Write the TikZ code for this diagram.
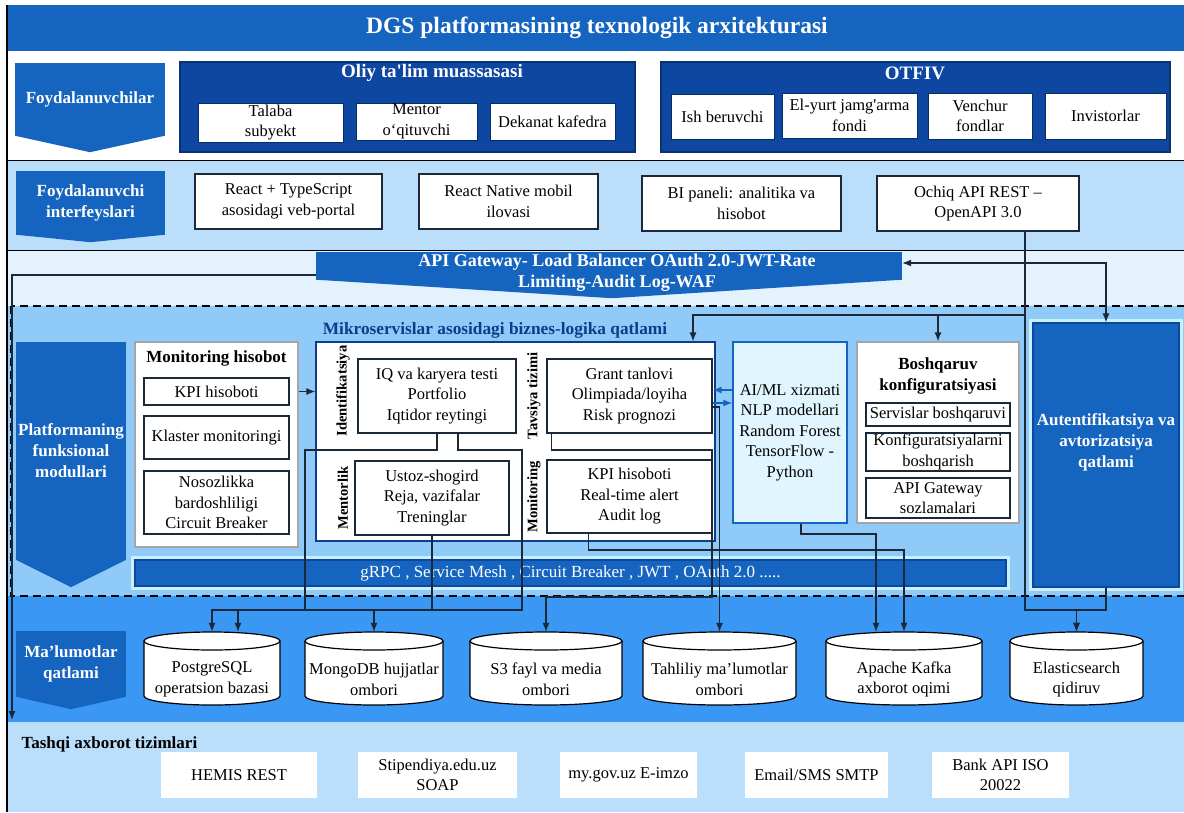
\documentclass[tikz,border=0pt]{standalone}
\usepackage{fontspec}
\setmainfont{Liberation Serif}
\usetikzlibrary{arrows.meta}

\definecolor{bandblue}{HTML}{1565C0}
\definecolor{groupblue}{HTML}{0D47A1}
\definecolor{ifacebg}{HTML}{BBDEFB}
\definecolor{gwbg}{HTML}{E3F2FD}
\definecolor{modbg}{HTML}{90CAF9}
\definecolor{databg}{HTML}{3A98F4}
\definecolor{aibg}{HTML}{E1F5FE}
\definecolor{linecol}{HTML}{1B2838}
\definecolor{labblue}{HTML}{0D3C8A}
\definecolor{halo}{HTML}{C8F0FF}

\tikzset{
  box/.style={draw=linecol, fill=white, line width=1.2pt, align=center, inner sep=1pt},
  ubox/.style={draw=groupblue!60!black, fill=white, line width=1pt, align=center, inner sep=1pt},
  xbox/.style={fill=white, align=center, inner sep=1pt},
  group/.style={draw=groupblue!70!black, fill=groupblue, line width=1.2pt},
  penta/.style={fill=bandblue, text=white, align=center, inner sep=0pt, font=\fontsize{17}{21}\selectfont\bfseries},
  hd/.style={font=\fontsize{17}{21}\selectfont\bfseries, align=center},
  grp/.style={text=white, font=\fontsize{19}{23}\selectfont\bfseries},
  vlab/.style={rotate=90, font=\fontsize{14.6}{18}\selectfont\bfseries},
  glow/.style={preaction={draw=halo, line width=8pt}},
  dbline/.style={draw=black, fill=white, line width=1.2pt},
  dbtxt/.style={align=center, yshift=-11pt},
  conn/.style={draw=linecol, line width=1.2pt},
  bconn/.style={draw=bandblue, line width=1.4pt},
}

\begin{document}
\begin{tikzpicture}[x=1pt, y=-1pt, font=\fontsize{16.5}{20.5}\selectfont, >={Latex[length=9pt,width=7pt]}]
\useasboundingbox (0,0) rectangle (1184,812);

% layer bands
\fill[white] (0,0) rectangle (1184,812);
\fill[bandblue] (7,5) rectangle (1184,51);
\fill[ifacebg] (7,160) rectangle (1184,250);
\fill[gwbg] (7,250) rectangle (1184,306);
\fill[modbg] (7,306) rectangle (1184,596);
\fill[databg] (7,596) rectangle (1184,722);
\fill[ifacebg] (7,722) rectangle (1184,812);
\draw[line width=1pt] (7,160) -- (1184,160);
\draw[line width=1pt] (7,250) -- (1184,250);
\draw[line width=1.3pt, dash pattern=on 8pt off 5pt] (11,306) rectangle (1192,596);
\draw[line width=1.3pt] (7,5) -- (7,812);

\node[text=white, font=\fontsize{23.5}{28}\selectfont\bfseries] (ttl) at (597,28) {DGS platformasining texnologik arxitekturasi};

% users
\node[penta, minimum width=150pt, minimum height=73pt] (usr) at (90,99.5) {Foydalanuvchilar};
\fill[bandblue] ([yshift=0.5pt]usr.south west) -- ([yshift=0.5pt]usr.south east) -- ([yshift=-16pt]usr.south) -- cycle;

\node[group, minimum width=455pt, minimum height=90pt] (oliy) at (407.5,107) {};
\node[grp] (oliyt) at (432,73) {Oliy ta\textquotesingle lim muassasasi};
\node[ubox, minimum width=145pt, minimum height=39pt] (talaba) at (270.5,122.5) {Talaba\\subyekt};
\node[ubox, minimum width=121pt, minimum height=37pt] (mentor) at (416.5,121.5) {Mentor\\o‘qituvchi};
\node[ubox, minimum width=125pt, minimum height=37pt] (dekanat) at (552.5,121.5) {Dekanat kafedra};

\node[group, minimum width=509pt, minimum height=90pt] (otfiv) at (915.5,107) {};
\node[grp] (otfivt) at (915,73) {OTFIV};
\node[ubox, minimum width=103pt, minimum height=45pt] (ish) at (722.5,116.5) {Ish beruvchi};
\node[ubox, minimum width=135pt, minimum height=45pt] (elyurt) at (849.5,115.5) {El-yurt jamg\textquotesingle arma\\fondi};
\node[ubox, minimum width=104pt, minimum height=46pt] (venchur) at (980,116) {Venchur\\fondlar};
\node[ubox, minimum width=121pt, minimum height=46pt] (invest) at (1105.5,116) {Invistorlar};

% interfaces
\node[penta, minimum width=149pt, minimum height=64pt] (ifc) at (90.5,203) {Foydalanuvchi\\interfeyslari};
\fill[bandblue] ([yshift=0.5pt]ifc.south west) -- ([yshift=0.5pt]ifc.south east) -- ([yshift=-7pt]ifc.south) -- cycle;
\node[box, minimum width=187pt, minimum height=55pt] (react) at (288.5,201.5) {React + TypeScript\\asosidagi veb-portal};
\node[box, minimum width=179pt, minimum height=55pt] (native) at (508.5,201.5) {React Native mobil\\ilovasi};
\node[box, minimum width=199pt, minimum height=55pt] (bi) at (741.5,203.5) {BI paneli: analitika va\\hisobot};
\node[box, minimum width=202pt, minimum height=55pt] (api) at (978,203.5) {Ochiq API REST –\\OpenAPI 3.0};

% gateway
\node[fill=bandblue, minimum width=586pt, minimum height=28pt, inner sep=0pt] (gw) at (609,266) {};
\fill[bandblue] ([yshift=0.5pt]gw.south west) -- ([yshift=0.5pt]gw.south east) -- ([xshift=3pt,yshift=-18pt]gw.south) -- cycle;
\node[text=white, align=center, font=\fontsize{18}{21}\selectfont\bfseries] (gwt) at (617,272.5) {API Gateway- Load Balancer OAuth 2.0-JWT-Rate\\Limiting-Audit Log-WAF};

% functional modules
\node[penta, minimum width=110pt, minimum height=218pt] (plat) at (71,451) {Platformaning\\funksional\\modullari};
\fill[bandblue] ([yshift=0.5pt]plat.south west) -- ([yshift=0.5pt]plat.south east) -- ([yshift=-27pt]plat.south) -- cycle;

\node[box, draw=gray!70, minimum width=163pt, minimum height=205pt] (monp) at (216.5,444.5) {};
\node[hd] (monpt) at (216.5,358) {Monitoring hisobot};
\node[box, minimum width=145pt, minimum height=27pt] (kpi1) at (216.5,391.5) {KPI hisoboti};
\node[box, minimum width=145pt, minimum height=43pt] (klaster) at (216.5,437.5) {Klaster monitoringi};
\node[box, minimum width=145pt, minimum height=63pt] (nosoz) at (216.5,502.5) {Nosozlikka\\bardoshliligi\\Circuit Breaker};

\node[box, draw=labblue, minimum width=399pt, minimum height=199pt] (micro) at (515.5,441.5) {};
\node[hd, text=labblue, font=\fontsize{17.3}{21}\selectfont\bfseries] (microt) at (495,330) {Mikroservislar asosidagi biznes-logika qatlami};
\node[box, minimum width=158pt, minimum height=74pt] (iq) at (437,396) {IQ va karyera testi\\Portfolio\\Iqtidor reytingi};
\node[box, minimum width=154pt, minimum height=74pt] (ustoz) at (432,498) {Ustoz-shogird\\Reja, vazifalar\\Treninglar};
\node[box, minimum width=165pt, minimum height=74pt] (grant) at (629.5,396) {Grant tanlovi\\Olimpiada/loyiha\\Risk prognozi};
\node[box, minimum width=165pt, minimum height=73pt] (kpi2) at (629.5,496.5) {KPI hisoboti\\Real-time alert\\Audit log};
\node[vlab] (vid) at (343,391) {Identifikatsiya};
\node[vlab] (vmen) at (343,498) {Mentorlik};
\node[vlab] (vtav) at (534,396) {Tavsiya tizimi};
\node[vlab] (vmon) at (534,497) {Monitoring};

\node[box, draw=bandblue, fill=aibg, minimum width=114pt, minimum height=181pt] (ai) at (790,432.5) {AI/ML xizmati\\NLP modellari\\Random Forest\\TensorFlow -\\Python};

\node[box, draw=gray!70, minimum width=162pt, minimum height=181pt] (boshq) at (938,432.5) {};
\node[hd] (boshqt) at (938,376) {Boshqaruv\\konfiguratsiyasi};
\node[box, minimum width=144pt, minimum height=23pt] (srv) at (938,414.5) {Servislar boshqaruvi};
\node[box, minimum width=144pt, minimum height=38pt] (konf) at (938,452) {Konfiguratsiyalarni\\boshqarish};
\node[box, minimum width=144pt, minimum height=40pt] (gwset) at (938,498) {API Gateway\\sozlamalari};

\node[glow, fill=bandblue, draw=groupblue, line width=1.2pt, text=white, font=\fontsize{17}{21}\selectfont, minimum width=871pt, minimum height=26pt, inner sep=0pt] (grpc) at (570.5,573) {gRPC , Service Mesh , Circuit Breaker , JWT , OAuth 2.0 .....};

\node[glow, fill=bandblue, draw=groupblue, line width=1.2pt, minimum width=146pt, minimum height=264pt, label={[text=white, align=center, yshift=13pt, font=\fontsize{17}{21}\selectfont\bfseries]center:Autentifikatsiya va\\avtorizatsiya\\qatlami}] (auth) at (1106,455) {};

% data layer
\node[penta, minimum width=110pt, minimum height=66pt] (dat) at (71,664) {Ma’lumotlar\\qatlami};
\fill[bandblue] ([yshift=0.5pt]dat.south west) -- ([yshift=0.5pt]dat.south east) -- ([yshift=-12pt]dat.south) -- cycle;
\foreach \nm/\x/\w/\txt in {pg/212/136/{PostgreSQL\\operatsion bazasi}, mongo/374/138/{MongoDB hujjatlar\\ombori}, s3/546/152/{S3 fayl va media\\ombori}, tahl/719.5/153/{Tahliliy ma’lumotlar\\ombori}, kafka/904/156/{Apache Kafka\\axborot oqimi}, elastic/1076.5/133/{Elasticsearch\\qidiruv}} {
  \filldraw[dbline] ({\x-\w/2},641) -- ({\x-\w/2},696) arc[start angle=180, end angle=360, x radius=\w*0.5pt, y radius=9pt] -- ({\x+\w/2},641);
  \filldraw[dbline] (\x,641) ellipse [x radius=\w*0.5pt, y radius=9pt];
  \node[inner sep=0pt, minimum width=\w*1pt, minimum height=73pt, label={[dbtxt]center:\txt}] (\nm) at (\x,668.5) {};
}

% external systems
\node[hd, anchor=west] (extt) at (18,744) {Tashqi axborot tizimlari};
\node[xbox, minimum width=156pt, minimum height=46pt] (hemis) at (239,775) {HEMIS REST};
\node[xbox, minimum width=159pt, minimum height=46pt] (stip) at (437.5,775) {Stipendiya.edu.uz\\SOAP};
\node[xbox, minimum width=137pt, minimum height=46pt] (mygov) at (628.5,775) {my.gov.uz E-imzo};
\node[xbox, minimum width=143pt, minimum height=46pt] (email) at (816.5,775) {Email/SMS SMTP};
\node[xbox, minimum width=137pt, minimum height=46pt] (bank) at (1000.5,775) {Bank API ISO\\20022};

% routing levels
\coordinate (lvT) at (0,315);
\coordinate (lvD) at (0,534);
\coordinate (lvC) at (0,550);
\coordinate (lvB) at (0,597);
\coordinate (lvA) at (0,610);
\coordinate (q1) at (305,450);
\coordinate (q2) at (522,450);
\coordinate (q3) at (712,450);
\coordinate (ext) at (12,720);
\coordinate (apiout) at ([xshift=47pt]api.south);
\coordinate (mtop) at ([xshift=177.5pt]micro.north);
\coordinate (iqr) at ([xshift=21pt]iq.south);
\coordinate (pg2) at ([xshift=26pt]pg.north);
\coordinate (gl) at ([xshift=5pt]grant.south west);
\coordinate (kl) at ([xshift=-41pt]kpi2.south);
\coordinate (k2) at ([xshift=-28pt]kafka.north);
\coordinate (g1) at ([yshift=6pt]grant.east);
\coordinate (g2) at ([yshift=-7pt]grant.east);

% connectors
\draw[conn, ->] ([yshift=-9pt]gw.west) -| (ext);
\draw[conn, <->] ([yshift=3pt]gw.east) -| (auth.north);
\draw[conn, ->] (apiout) |- (mtop |- lvT) -- (mtop);
\draw[conn, ->] (apiout) |- (boshq.north |- lvT) -- (boshq.north);
\draw[conn, ->] (apiout) |- (elastic.north |- lvA) -- (elastic.north);
\draw[conn, ->] (auth.south) |- (elastic.north |- lvA) -- (elastic.north);
\draw[conn, ->] (monp.east |- kpi1) -- (micro.west |- kpi1);
\draw[bconn, ->] (g1 -| ai.west) -- (g1);
\draw[bconn, ->] (g2) -- (g2 -| ai.west);
\draw[conn, ->] (iq.south) |- (q1) -- (q1 |- lvA) -| (pg.north);
\draw[conn, ->] (iqr) |- (q2) -- (q2 |- lvA) -| (mongo.north);
\draw[conn, ->] (ustoz.south) |- (pg2 |- lvA) -- (pg2);
\draw[conn, ->] (gl) |- (q3) -- (q3 |- lvB) -| (s3.north);
\draw[conn, ->] ([yshift=-11pt]grant.east) -| (tahl.north);
\draw[conn, ->] (kl) |- (kafka.north |- lvC) -- (kafka.north);
\draw[conn, ->] ([xshift=11pt]ai.south) |- (k2 |- lvD) -- (k2);
\end{tikzpicture}
\end{document}
